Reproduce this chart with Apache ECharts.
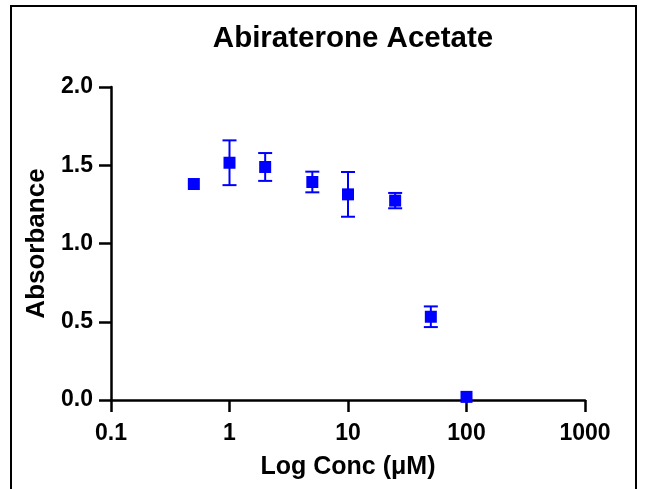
<!DOCTYPE html>
<html>
<head>
<meta charset="utf-8">
<script src="https://cdn.jsdelivr.net/npm/echarts@6/dist/echarts.min.js"></script>
<style>
html,body{margin:0;padding:0;background:#fff;}
#chart{width:645px;height:489px;}
</style>
</head>
<body>
<div id="chart"></div>
<script>
const titleText = 'Abiraterone Acetate';
const xName = 'Log Conc (μM)';
const yName = 'Absorbance';
const conc = [0.5, 1, 2, 5, 10, 25, 50, 100];
const absorbance = [1.38, 1.516, 1.489, 1.393, 1.314, 1.274, 0.532, 0.02];
const errorSD = [0, 0.143, 0.089, 0.066, 0.143, 0.049, 0.066, 0];
const xTicks = [0.1, 1, 10, 100, 1000];
const yTicks = [0.0, 0.5, 1.0, 1.5, 2.0];

const FONT = '"Liberation Sans", Arial, Helvetica, sans-serif';
const BLUE = '#0000ff';

const points = conc.map((c, i) => [c, absorbance[i]]);
const bars = conc.map((c, i) => [c, absorbance[i] - errorSD[i], absorbance[i] + errorSD[i]]);

const chart = echarts.init(document.getElementById('chart'), null, {renderer: 'canvas'});
chart.setOption({
  animation: false,
  backgroundColor: '#fff',
  title: {
    text: titleText,
    left: 348, top: 19, textAlign: 'center',
    textStyle: {fontFamily: FONT, fontWeight: 'bold', fontSize: 29.5, color: '#000'}
  },
  graphic: [{
    type: 'rect',
    shape: {x: 11, y: 6, width: 625, height: 520},
    style: {fill: 'none', stroke: '#000', lineWidth: 2},
    silent: true, z: -1
  }],
  grid: {left: 111, right: 60, top: 87, bottom: 89, containLabel: false},
  xAxis: {
    type: 'log', logBase: 10, min: xTicks[0], max: xTicks[xTicks.length - 1],
    name: xName, nameLocation: 'middle', nameGap: 55,
    nameTextStyle: {fontFamily: FONT, fontWeight: 'bold', fontSize: 25, color: '#000'},
    axisLine: {show: true, lineStyle: {color: '#000', width: 2.5}},
    axisTick: {show: true, length: 12, lineStyle: {color: '#000', width: 2.5}},
    minorTick: {show: false},
    splitLine: {show: false},
    axisLabel: {
      margin: 22, fontFamily: FONT, fontWeight: 'bold', fontSize: 23, color: '#000',
      formatter: v => { const t = xTicks.find(x => Math.abs(Math.log10(x) - Math.log10(v)) < 1e-6); return t !== undefined ? String(t) : ''; }
    }
  },
  yAxis: {
    type: 'value', min: yTicks[0], max: yTicks[yTicks.length - 1], interval: 0.5,
    name: yName, nameLocation: 'middle', nameGap: 60,
    nameTextStyle: {fontFamily: FONT, fontWeight: 'bold', fontSize: 26, color: '#000'},
    axisLine: {show: true, lineStyle: {color: '#000', width: 2.5}},
    axisTick: {show: true, length: 12, lineStyle: {color: '#000', width: 2.5}},
    splitLine: {show: false},
    axisLabel: {
      margin: 18, fontFamily: FONT, fontWeight: 'bold', fontSize: 23, color: '#000',
      formatter: v => v.toFixed(1)
    }
  },
  series: [{
    type: 'custom',
    data: bars,
    z: 2,
    renderItem: (params, api) => {
      const x = api.value(0), lo = api.value(1), hi = api.value(2);
      if (hi - lo <= 0) return {type: 'group', children: []};
      const pLo = api.coord([x, lo]);
      const pHi = api.coord([x, hi]);
      const hw = 7;
      const style = {stroke: BLUE, lineWidth: 2};
      return {
        type: 'group',
        children: [
          {type: 'line', shape: {x1: pLo[0], y1: pLo[1], x2: pHi[0], y2: pHi[1]}, style},
          {type: 'line', shape: {x1: pLo[0] - hw, y1: pLo[1], x2: pLo[0] + hw, y2: pLo[1]}, style},
          {type: 'line', shape: {x1: pHi[0] - hw, y1: pHi[1], x2: pHi[0] + hw, y2: pHi[1]}, style}
        ]
      };
    }
  }, {
    type: 'scatter',
    data: points,
    symbol: 'rect',
    symbolSize: 12,
    itemStyle: {color: BLUE, opacity: 1},
    z: 5,
    clip: false
  }]
});
</script>
</body>
</html>
